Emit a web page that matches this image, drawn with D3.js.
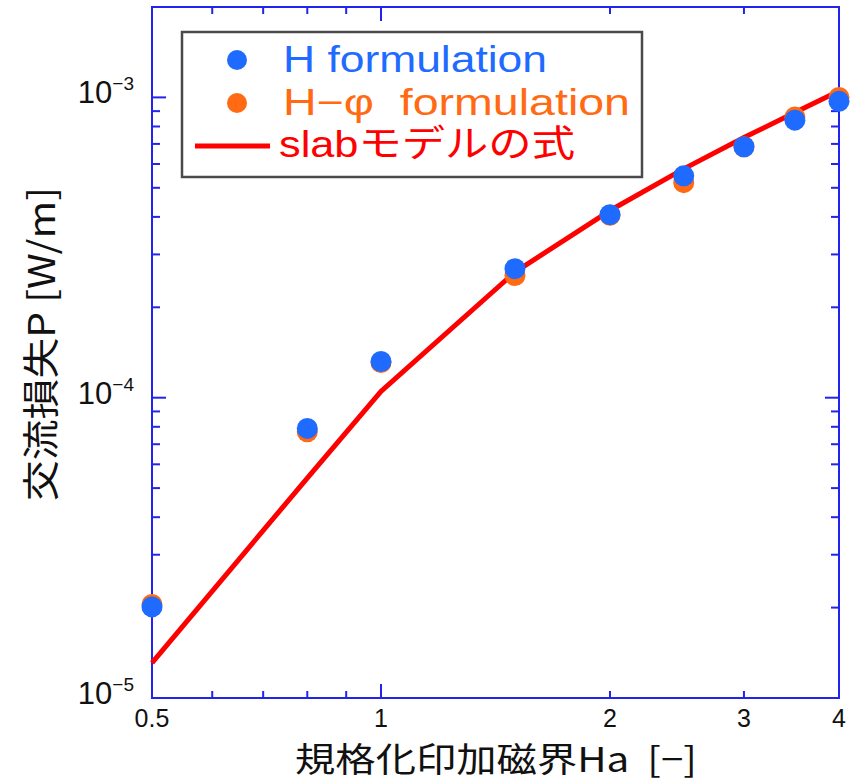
<!DOCTYPE html>
<html><head><meta charset="utf-8">
<script src="https://cdn.jsdelivr.net/npm/d3@7"></script>
<style>
html,body{margin:0;padding:0;background:#fff;}
svg{display:block;}
</style></head>
<body>
<svg id="chart" width="853" height="782"></svg>
<script>
// ---- data ----
const ha = [0.5, 0.8, 1, 1.5, 2, 2.5, 3, 3.5, 4];
const hFormulation = [2.01e-5, 7.9e-5, 1.32e-4, 2.69e-4, 4.07e-4, 5.48e-4, 6.85e-4, 8.4e-4, 9.7e-4];
const hPhiFormulation = [2.05e-5, 7.7e-5, 1.31e-4, 2.55e-4, 4.05e-4, 5.2e-4, 6.85e-4, 8.6e-4, 1.0e-3];
const slabModel = [1.31e-5, 5.4e-5, 1.05e-4, 2.62e-4, 4.2e-4, 5.78e-4, 7.35e-4, 8.9e-4, 1.05e-3];

const xTickLabels = [0.5, 1, 2, 3, 4];
const xMinorTicks = [0.6, 0.7, 0.8, 0.9, 2, 3];
const xMajorTicks = [1];
const yMajorTicks = [1e-5, 1e-4, 1e-3];
const yExponents = ["−5", "−4", "−3"];
const yMinorTicks = [2e-5,3e-5,4e-5,5e-5,6e-5,7e-5,8e-5,9e-5,2e-4,3e-4,4e-4,5e-4,6e-4,7e-4,8e-4,9e-4];

const legendLabels = ["H formulation", "H−φ\u00a0\u00a0formulation", "slabモデルの式"];
const xTitle = "規格化印加磁界Ha\u00a0\u00a0[−]";
const yTitle = "交流損失P [W/m]";

const colBlue = "#1f6bff", colOrange = "#ff6a12", colRed = "#ff0000", colFrame = "#2323f0";

// ---- layout ----
const L = 152, R = 839, T = 7, B = 698;
const svg = d3.select("#chart");
const x = d3.scaleLog().domain([0.5, 4]).range([L, R]);
const y = d3.scaleLog().domain([1e-5, 2e-3]).range([B, T]);

// frame
svg.append("rect").attr("x", L).attr("y", T).attr("width", R - L).attr("height", B - T)
  .attr("fill", "none").attr("stroke", colFrame).attr("stroke-width", 2);

// ticks (inward on all four sides)
const tk = svg.append("g").attr("stroke", colFrame).attr("stroke-width", 2);
function xTick(v, len) {
  tk.append("line").attr("x1", x(v)).attr("x2", x(v)).attr("y1", B).attr("y2", B - len);
  tk.append("line").attr("x1", x(v)).attr("x2", x(v)).attr("y1", T).attr("y2", T + len);
}
function yTick(v, len) {
  tk.append("line").attr("y1", y(v)).attr("y2", y(v)).attr("x1", L).attr("x2", L + len);
  tk.append("line").attr("y1", y(v)).attr("y2", y(v)).attr("x1", R).attr("x2", R - len);
}
xMinorTicks.forEach(v => xTick(v, 7));
xMajorTicks.forEach(v => xTick(v, 14));
yMinorTicks.forEach(v => yTick(v, 8));
yMajorTicks.forEach(v => yTick(v, 14));

// x tick labels
svg.append("g").selectAll("text").data(xTickLabels).join("text")
  .attr("x", d => x(d)).attr("y", 727)
  .attr("text-anchor", "middle")
  .attr("font-family", "Liberation Sans, Arial, sans-serif")
  .attr("font-size", 25).attr("fill", "#111")
  .text(d => d);

// y tick labels
const yl = svg.append("g").selectAll("text").data(yMajorTicks).join("text")
  .attr("x", 134).attr("y", d => y(d) + 6)
  .attr("text-anchor", "end")
  .attr("font-family", "Liberation Sans, Arial, sans-serif")
  .attr("fill", "#111");
yl.append("tspan").attr("font-size", 31).text("10");
yl.append("tspan").attr("font-size", 19).attr("dy", -13).text((d, i) => yExponents[i]);

// slab model line
const line = d3.line().x((d, i) => x(ha[i])).y(d => y(d));
svg.append("path").datum(slabModel).attr("d", line)
  .attr("fill", "none").attr("stroke", colRed).attr("stroke-width", 5)
  .attr("stroke-linejoin", "round");

// points
svg.append("g").selectAll("circle").data(hPhiFormulation).join("circle")
  .attr("cx", (d, i) => x(ha[i])).attr("cy", d => y(d)).attr("r", 10.5).attr("fill", colOrange);
svg.append("g").selectAll("circle").data(hFormulation).join("circle")
  .attr("cx", (d, i) => x(ha[i])).attr("cy", d => y(d)).attr("r", 10.5).attr("fill", colBlue);

// legend
const lg = svg.append("g");
lg.append("rect").attr("x", 182).attr("y", 32).attr("width", 460).attr("height", 145)
  .attr("fill", "#fff").attr("stroke", "#4a4a4a").attr("stroke-width", 2.5);
lg.append("circle").attr("cx", 237).attr("cy", 60).attr("r", 10).attr("fill", colBlue);
lg.append("circle").attr("cx", 237).attr("cy", 103).attr("r", 10).attr("fill", colOrange);
lg.append("line").attr("x1", 195).attr("x2", 270).attr("y1", 146).attr("y2", 146)
  .attr("stroke", colRed).attr("stroke-width", 5);
const lgFont = "Liberation Sans, Arial, 'Noto Sans CJK JP', sans-serif";
const lgPos = [[283, 72, 264, colBlue], [283, 115, 347, colOrange], [279, 157, 296, colRed]];
legendLabels.forEach((t, i) => {
  lg.append("text").attr("x", lgPos[i][0]).attr("y", lgPos[i][1])
    .attr("font-family", lgFont).attr("font-size", 37)
    .attr("fill", lgPos[i][3])
    .attr("textLength", lgPos[i][2]).attr("lengthAdjust", "spacingAndGlyphs")
    .text(t);
});

// axis titles
svg.append("text").attr("x", 496).attr("y", 772).attr("text-anchor", "middle")
  .attr("font-family", "'Noto Sans CJK JP', sans-serif").attr("font-size", 34).attr("fill", "#111")
  .attr("textLength", 402).attr("lengthAdjust", "spacingAndGlyphs")
  .text(xTitle);
svg.append("text").attr("transform", "translate(55,344) rotate(-90)")
  .attr("text-anchor", "middle")
  .attr("font-family", "'Noto Sans CJK JP', sans-serif").attr("font-size", 37).attr("fill", "#111")
  .attr("textLength", 314).attr("lengthAdjust", "spacingAndGlyphs")
  .text(yTitle);
</script>
</body></html>
